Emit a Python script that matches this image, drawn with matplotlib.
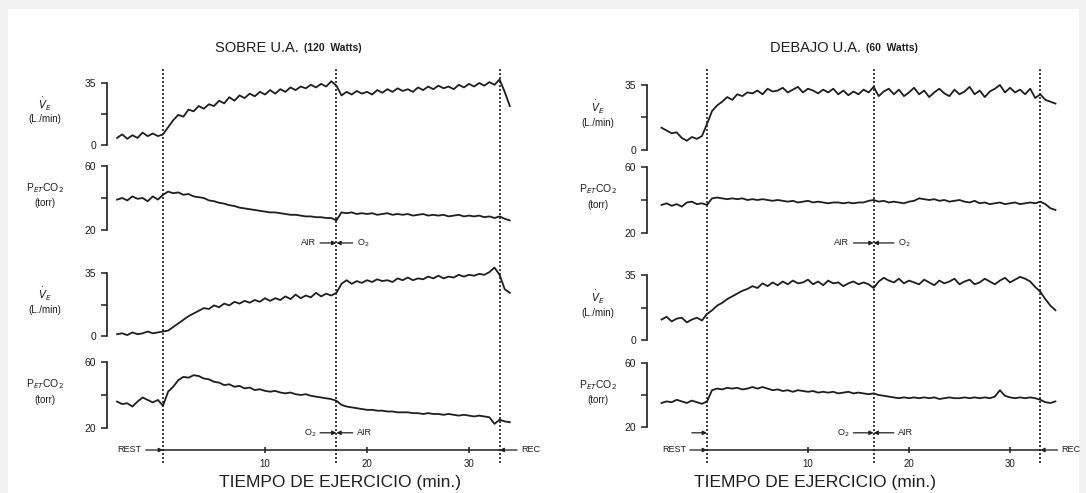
import numpy as np
import matplotlib
matplotlib.use('Agg')
from matplotlib import pyplot as plt
from matplotlib.patches import Rectangle

plt.rcParams['font.family'] = ['Liberation Sans', 'DejaVu Sans']

W, H = 1086, 493
ink = '#1e1e1e'

# time grid (min), rest starts 4.5 min before exercise
t_sobre = np.arange(-4.5, 34.01, 0.5)
t_debajo = np.arange(-4.5, 34.51, 0.5)

# SOBRE U.A. (120 W): air -> O2 switch at 17 min
ve_sobre_air = [4, 6, 3.5, 5.5, 4, 7, 5, 6.5, 5, 6,
                10, 14, 17, 16, 20, 19, 22, 20.5, 23, 22,
                25, 23.5, 27, 25, 28, 26.5, 29, 27.5, 30, 28.5,
                31, 29, 31.5, 30, 32.5, 31, 33, 32, 34, 32.5,
                34.5, 33, 36, 33.5, 28, 30, 28.5, 30.5, 29, 30,
                28.5, 31, 29.5, 31.5, 30, 32, 30.5, 31.5, 30, 32.5,
                31, 33, 31.5, 33.5, 32, 33, 31.5, 34, 32.5, 34.5,
                33, 35, 33.5, 35.5, 34, 37, 30, 22]
pco2_sobre_air = [39, 40, 38.5, 41, 39.5, 40, 38, 41, 39, 42,
                  44, 43, 43.5, 42, 42.5, 41, 40.5, 40, 38.5, 38,
                  37, 36.5, 35.5, 35, 34, 33.5, 33, 32.5, 32, 31.5,
                  31, 31, 30.5, 30, 29.5, 29.5, 29, 28.5, 28.5, 28,
                  28, 27.5, 27.5, 26, 31, 30.5, 31, 30, 30.5, 30,
                  30.5, 29.5, 30, 30.5, 29.5, 30, 29.5, 30, 29, 29.5,
                  30, 29, 29.5, 29, 29.5, 28.5, 29, 29.5, 28.5, 29,
                  28.5, 29, 28, 28.5, 27.5, 28.5, 27, 26]
# SOBRE U.A. (120 W): O2 -> air switch at 17 min
ve_sobre_o2 = [1, 1.5, 0.5, 2, 1, 1.5, 2.5, 1.5, 2, 2.5,
               3, 5, 7, 9, 11, 12.5, 14, 15.5, 15, 17,
               16, 18, 17, 19, 18, 19.5, 18.5, 20, 19, 21,
               19.5, 21, 20, 22, 20.5, 23, 21, 22.5, 21.5, 24,
               22, 23.5, 22.5, 24, 29, 31, 29, 30.5, 29.5, 31,
               30, 31.5, 30.5, 31, 30, 32, 31, 32.5, 31, 32,
               31.5, 33, 32, 33.5, 32, 33, 32.5, 34, 33, 34,
               33.5, 34.5, 34, 35.5, 38, 34, 26, 24]
pco2_sobre_o2 = [36, 34.5, 35, 33, 36, 38.5, 37, 35.5, 37, 33.5,
                 42, 45, 49, 51, 50.5, 52, 51.5, 50, 49.5, 48,
                 47.5, 46, 46.5, 45, 45.5, 44, 44.5, 43, 43.5, 42.5,
                 42, 42.5, 41.5, 41, 41.5, 40.5, 40, 40.5, 39.5, 39,
                 38.5, 38, 37.5, 36.5, 34, 33, 32.5, 32, 31.5, 31,
                 31, 30.5, 30.5, 30, 30, 29.5, 29.5, 29.5, 29, 29,
                 28.5, 29, 28.5, 28.5, 28, 28.5, 28, 27.5, 28, 27.5,
                 27, 27.5, 27, 26.5, 22.5, 25, 24, 23.5]

# DEBAJO U.A. (60 W): switch at 16.5 min
ve_debajo_air = [12, 10.5, 9, 9.5, 6.5, 5, 7, 6, 7.5, 14,
                 21, 24, 26, 28.5, 27, 30, 29, 31, 30.5, 32,
                 30, 33, 31.5, 32, 33.5, 31, 32.5, 34, 31, 33,
                 32, 30.5, 32.5, 31, 33, 30, 32, 29.5, 31.5, 30,
                 32.5, 31, 34, 29, 31.5, 33, 30, 32.5, 29, 31,
                 33.5, 30, 32, 28.5, 31, 33, 30.5, 29, 32.5, 30,
                 31.5, 34, 30, 32, 28.5, 31.5, 33, 35, 31, 33.5,
                 31, 32.5, 30, 33, 28, 30, 27, 26, 25]
pco2_debajo_air = [37, 38, 36.5, 37.5, 36, 38.5, 39, 37.5, 38, 37,
                   41, 41.5, 41, 40.5, 41, 40.5, 41, 40, 40.5, 40,
                   40.5, 40, 39.5, 40, 39.5, 39, 39.5, 38.5, 39, 39.5,
                   38.5, 39, 38.5, 38, 38.5, 38.5, 38, 38.5, 38, 38.5,
                   38.5, 39.5, 40, 39, 39.5, 38.5, 39, 38.5, 38, 39,
                   39.5, 41, 40.5, 40, 40.5, 39.5, 40, 39, 39.5, 40,
                   39, 38.5, 39.5, 38, 38.5, 37.5, 38, 38.5, 37.5, 38,
                   38.5, 37.5, 38, 38.5, 38, 39, 37.5, 35, 34]
ve_debajo_o2 = [11, 12.5, 10, 11.5, 12, 9.5, 11, 12, 10.5, 14,
                16, 18.5, 20, 22, 23.5, 25, 26.5, 27.5, 29, 28,
                30.5, 29, 31, 29.5, 31.5, 30, 32, 30.5, 31, 32.5,
                30, 31.5, 29.5, 32, 30.5, 31, 29, 30.5, 31.5, 30,
                31, 30, 28, 31.5, 33.5, 32, 31, 33, 30.5, 32,
                31, 30, 32.5, 31, 29.5, 32, 30.5, 31.5, 33, 30,
                31.5, 32.5, 30, 31, 33, 31.5, 30, 32, 33.5, 31,
                32.5, 34, 33, 31.5, 28.5, 26, 22, 18.5, 16]
pco2_debajo_o2 = [35, 36, 35.5, 37, 36, 35, 36.5, 35.5, 34.5, 36,
                  43, 44, 43.5, 44.5, 44, 44.5, 43.5, 44, 45, 44,
                  45, 44, 43, 43.5, 42.5, 43, 42, 43, 42.5, 42,
                  42.5, 41.5, 42, 41.5, 42, 41, 41.5, 42, 41, 41.5,
                  41, 40.5, 41, 40, 39.5, 39, 38.5, 38, 38.5, 38,
                  38.5, 38, 38.5, 38, 38.5, 37.5, 38, 38.5, 38, 38,
                  38.5, 38, 38.5, 38, 38.5, 38, 39, 43, 39.5, 38.5,
                  38, 38.5, 38, 38.5, 38, 37, 35.5, 35, 36]

ve_range = (0, 35)
pco2_range = (20, 60)
time_ticks = [10, 20, 30]


def box(x0, x1, y0, y1):
    # pixel box (y0 top, y1 bottom) -> figure fraction rect
    return [x0 / W, 1 - y1 / H, (x1 - x0) / W, (y1 - y0) / H]


def trace_axes(fig, p, top, bottom, yr, t, values, label, unit):
    ax = fig.add_axes(box(p['x0'], p['x1'], top, bottom))
    ax.set_xlim(p['xlim'])
    ax.set_ylim(yr)
    ax.patch.set_visible(False)
    for s in ['top', 'right', 'bottom']:
        ax.spines[s].set_visible(False)
    ax.spines['left'].set_color(ink)
    ax.spines['left'].set_linewidth(1.2)
    ax.set_xticks([])
    ax.set_yticks([yr[0], (yr[0] + yr[1]) / 2, yr[1]])
    ax.set_yticklabels([str(yr[0]), '', str(yr[1])])
    ax.tick_params(axis='y', length=4, width=1.1, colors=ink, labelsize=7.5, pad=4)
    ax.plot(t, values, color=ink, lw=1.3, clip_on=False)
    off = p['label_off'] * 0.72
    ax.annotate(label, xy=(0, 0.66), xycoords='axes fraction', xytext=(off, 0),
                textcoords='offset points', ha='center', va='center', fontsize=7.5, color=ink)
    ax.annotate(unit, xy=(0, 0.42), xycoords='axes fraction', xytext=(off, 0),
                textcoords='offset points', ha='center', va='center', fontsize=7, color=ink)
    return ax


def arrow(ax, x_tip, x_tail, y):
    ax.annotate('', xy=(x_tip, y), xytext=(x_tail, y), xycoords=ax.get_xaxis_transform(),
                arrowprops=dict(arrowstyle='-|>', color=ink, lw=0.9, mutation_scale=6,
                                shrinkA=0, shrinkB=0))


def switch_marker(ax, x, y, left_text, right_text, span):
    trans = ax.get_xaxis_transform()
    arrow(ax, x, x - span, y)
    arrow(ax, x, x + span, y)
    ax.text(x - span - 0.4, y, left_text, transform=trans, ha='right', va='center',
            fontsize=6.5, color=ink)
    ax.text(x + span + 0.4, y, right_text, transform=trans, ha='left', va='center',
            fontsize=6.5, color=ink)


panels = [
    dict(zero=163, ppm=10.2, bracket=107, xmax=35.0, switch=17.0, end=33.0,
         boxes=[(83, 145), (166, 230), (273, 336), (362, 428)],
         t=t_sobre, series=[ve_sobre_air, pco2_sobre_air, ve_sobre_o2, pco2_sobre_o2],
         title=('SOBRE U.A.', '(120  Watts)'), title_x=13.3, label_off=-62,
         xlabel_x=17.4, span=1.6, rest_arrow=False),
    dict(zero=707, ppm=10.1, bracket=647, xmax=37.0, switch=16.5, end=33.0,
         boxes=[(85, 150), (167, 233), (275, 340), (363, 427)],
         t=t_debajo, series=[ve_debajo_air, pco2_debajo_air, ve_debajo_o2, pco2_debajo_o2],
         title=('DEBAJO U.A.', '(60  Watts)'), title_x=15.2, label_off=-49,
         xlabel_x=10.7, span=2.0, rest_arrow=True),
]

fig = plt.figure(figsize=(W / 100, H / 100), dpi=100)
fig.patch.set_facecolor('#f2f2f2')
fig.add_artist(Rectangle((8 / W, 0), 1071 / W, 1 - 9 / H, transform=fig.transFigure,
                         facecolor='white', edgecolor='none', zorder=-10))

labels = [(r'$\dot{V}_E$', '(L./min)'), (r'P$_{ET}$CO$_2$', '(torr)')] * 2
ranges = [ve_range, pco2_range] * 2

for p in panels:
    xmin = (p['bracket'] - p['zero']) / p['ppm']
    p['xlim'] = (xmin, p['xmax'])
    p['x0'] = p['bracket']
    p['x1'] = p['zero'] + p['xmax'] * p['ppm']

    for (top, bottom), yr, values, (lab, unit) in zip(p['boxes'], ranges, p['series'], labels):
        trace_axes(fig, p, top, bottom, yr, p['t'], values, lab, unit)

    # time axis and event lines spanning all four traces
    ov = fig.add_axes(box(p['x0'], p['x1'], 68, 450))
    ov.set_xlim(p['xlim'])
    ov.set_ylim(0, 1)
    ov.patch.set_visible(False)
    for s in ['top', 'right', 'left']:
        ov.spines[s].set_visible(False)
    ov.spines['bottom'].set_bounds(0, p['end'])
    ov.spines['bottom'].set_color(ink)
    ov.spines['bottom'].set_linewidth(1.1)
    ov.set_yticks([])
    ov.set_xticks(time_ticks)
    ov.tick_params(axis='x', direction='inout', length=5, width=1.1, colors=ink,
                   labelsize=7, pad=4)
    for x in [0, p['switch'], p['end']]:
        ov.axvline(x, ymin=-0.034, ymax=1.0, color=ink, lw=1.2, ls=(0, (1.2, 1.2)),
                   clip_on=False)

    trans = ov.get_xaxis_transform()
    switch_marker(ov, p['switch'], 0.542, 'AIR', 'O$_2$', p['span'])
    switch_marker(ov, p['switch'], 0.045, 'O$_2$', 'AIR', p['span'])
    if p['rest_arrow']:
        arrow(ov, 0, -1.5, 0.045)

    arrow(ov, 0, -1.7, 0.0)
    ov.text(-2.1, 0.0, 'REST', transform=trans, ha='right', va='center', fontsize=6.5, color=ink)
    arrow(ov, p['end'], p['end'] + 1.7, 0.0)
    ov.text(p['end'] + 2.1, 0.0, 'REC', transform=trans, ha='left', va='center',
            fontsize=6.5, color=ink)

    ov.text(p['xlabel_x'], -0.086, 'TIEMPO DE EJERCICIO (min.)',
            transform=trans, ha='center', va='center', fontsize=12.5, color=ink)
    ov.text(p['title_x'], 1.052, p['title'][0], transform=trans, ha='right', va='center',
            fontsize=10.5, color=ink)
    ov.text(p['title_x'] + 0.5, 1.052, p['title'][1], transform=trans, ha='left', va='center',
            fontsize=7.5, color=ink, fontweight='bold')

fig.savefig('out.png', dpi=100, facecolor=fig.get_facecolor())
